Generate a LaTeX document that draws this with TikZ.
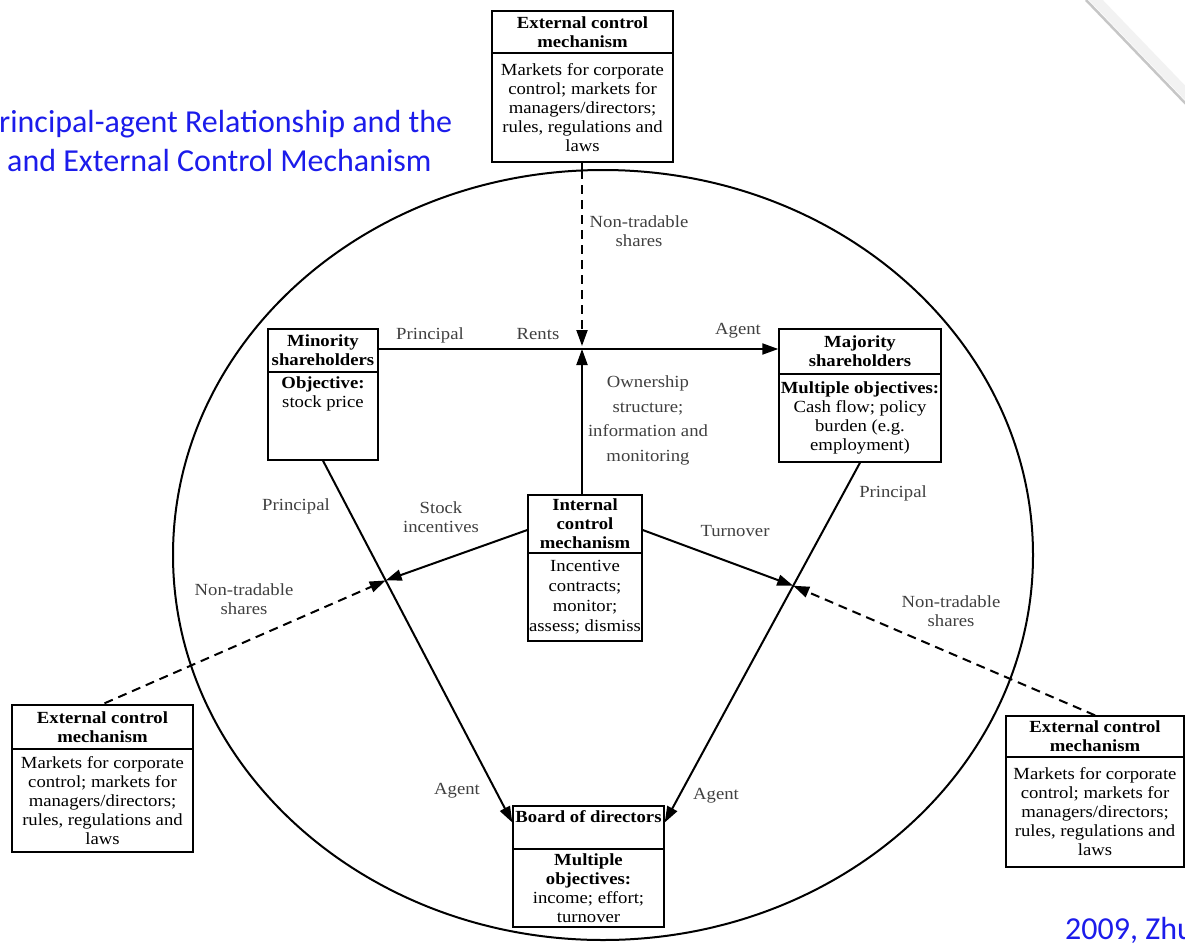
\documentclass[tikz,border=0pt]{standalone}
\usepackage{fontspec}
\setmainfont{Liberation Serif}[FakeStretch=1.1]
\newfontfamily\titlefont{Carlito}
\usetikzlibrary{arrows.meta,calc}
\definecolor{ttlblue}{RGB}{28,28,235}
\tikzset{
  boxpart/.style={draw, line width=1.4pt, fill=white, inner sep=0pt, align=center, font=\fontsize{17}{19}\selectfont},
  lbl/.style={text=black!75, align=center, inner sep=1pt, font=\fontsize{17}{19}\selectfont},
  arr/.style={line width=2pt, -{Triangle[length=16pt,width=11pt]}},
  darr/.style={arr, dash pattern=on 9pt off 6pt},
  ttl/.style={text=ttlblue, anchor=west, inner sep=0pt, font=\titlefont\fontsize{32}{38}\selectfont}
}
\begin{document}
\begin{tikzpicture}[x=1pt,y=-1pt]
\clip (0,0) rectangle (1185,945);
\fill[white] (0,0) rectangle (1185,945);
% page-corner shadow
\draw[gray!10, line width=10pt] (1092,-4) -- (1192,100);
\draw[gray!45, line width=2.5pt] (1086,0) -- (1186,104);
% title
\node[ttl] (t1) at (-1,124) {rincipal-agent Relationship and the};
\node[ttl] (t2) at (7,161) {and External Control Mechanism};
\node[ttl] (t3) at (1065,930) {2009, Zhu};
% ellipse
\draw[line width=2pt] (603,555) ellipse [x radius=430pt, y radius=385pt];
% top external box
\node[boxpart, minimum width=181pt, minimum height=42pt] (topT) at (582.5,32) {\bfseries External control\\\bfseries mechanism};
\node[boxpart, minimum width=181pt, minimum height=109pt] (topB) at (582.5,107.5) {Markets for corporate\\control; markets for\\managers/directors;\\rules, regulations and\\laws};
% minority
\node[boxpart, minimum width=110pt, minimum height=43pt] (minT) at (323,350.5) {\bfseries Minority\\\bfseries shareholders};
\node[boxpart, minimum width=110pt, minimum height=88pt] (minB) at (323,416) {};
\node[lbl, text=black, anchor=north] (minTx) at ($(minB.north)+(0,4)$) {\textbf{Objective:}\\stock price};
% majority
\node[boxpart, minimum width=162pt, minimum height=45pt] (majT) at (860,351.5) {\bfseries Majority\\\bfseries shareholders};
\node[boxpart, minimum width=162pt, minimum height=88pt] (majB) at (860,418) {\textbf{Multiple objectives:}\\Cash flow; policy\\burden (e.g.\\employment)};
% internal
\node[boxpart, minimum width=114pt, minimum height=58pt] (intT) at (585,524) {\bfseries Internal\\\bfseries control\\\bfseries mechanism};
\node[boxpart, minimum width=114pt, minimum height=88pt, font=\fontsize{17}{20}\selectfont] (intB) at (585,597) {Incentive\\contracts;\\monitor;\\assess; dismiss};
% board
\node[boxpart, minimum width=151pt, minimum height=43pt] (bodT) at (588.5,827.5) {};
\node[lbl, text=black, anchor=north] (bodTx) at ($(bodT.north)+(0,4)$) {\bfseries Board of directors};
\node[boxpart, minimum width=151pt, minimum height=78pt] (bodB) at (588.5,888) {\textbf{Multiple}\\\textbf{objectives:}\\income; effort;\\turnover};
% left external
\node[boxpart, minimum width=181pt, minimum height=44pt] (lexT) at (102.5,727) {\bfseries External control\\\bfseries mechanism};
\node[boxpart, minimum width=181pt, minimum height=103pt] (lexB) at (102.5,800.5) {Markets for corporate\\control; markets for\\managers/directors;\\rules, regulations and\\laws};
% right external
\node[boxpart, minimum width=178pt, minimum height=41pt] (rexT) at (1095,736.5) {\bfseries External control\\\bfseries mechanism};
\node[boxpart, minimum width=178pt, minimum height=110pt] (rexB) at (1095,812) {Markets for corporate\\control; markets for\\managers/directors;\\rules, regulations and\\laws};
% key points
\coordinate (rentP) at (582,349);
\coordinate (rentA) at (582,346);
\coordinate (bodL) at ($(bodT.west)+(0,-5)$);
\coordinate (bodR) at ($(bodT.east)+(0,-5)$);
\coordinate (xL) at ($(minB.south)!0.331!(bodL)$);
\coordinate (xR) at ($(majB.south)!0.342!(bodR)$);
\coordinate (elTop) at (582,170);
% connectors
\draw[arr] (minT.east |- rentP) -- (majT.west |- rentP);
\draw[arr] (intT.north -| rentP) -- (rentP);
\draw[line width=2pt] (topB.south -| rentA) -- (elTop);
\draw[darr] (elTop) -- (rentA);
\draw[arr] (minB.south) -- (bodL);
\draw[arr] (majB.south) -- (bodR);
\draw[arr] ($(intT.west)+(0,6)$) -- (xL);
\draw[arr] ($(intT.east)+(0,6)$) -- (xR);
\draw[darr] ($(lexT.north)+(2,-1)$) -- (xL);
\draw[darr] (rexT.north) -- (xR);
% labels
\node[lbl] (lPr1) at (430,335) {Principal};
\node[lbl] (lRent) at (538,334) {Rents};
\node[lbl] (lAg1) at (738,331) {Agent};
\node[lbl, font=\fontsize{17}{24.5}\selectfont] (lOwn) at (648,420.5) {Ownership\\structure;\\information and\\monitoring};
\node[lbl] (lNT1) at (639,231) {Non-tradable\\shares};
\node[lbl] (lPr2) at (296,506) {Principal};
\node[lbl] (lStk) at (441,517) {Stock\\incentives};
\node[lbl] (lTurn) at (735,531) {Turnover};
\node[lbl] (lPr3) at (893,493) {Principal};
\node[lbl] (lNT2) at (244,599) {Non-tradable\\shares};
\node[lbl] (lNT3) at (951,611) {Non-tradable\\shares};
\node[lbl] (lAg2) at (457,791) {Agent};
\node[lbl] (lAg3) at (716,796) {Agent};
\end{tikzpicture}
\end{document}
